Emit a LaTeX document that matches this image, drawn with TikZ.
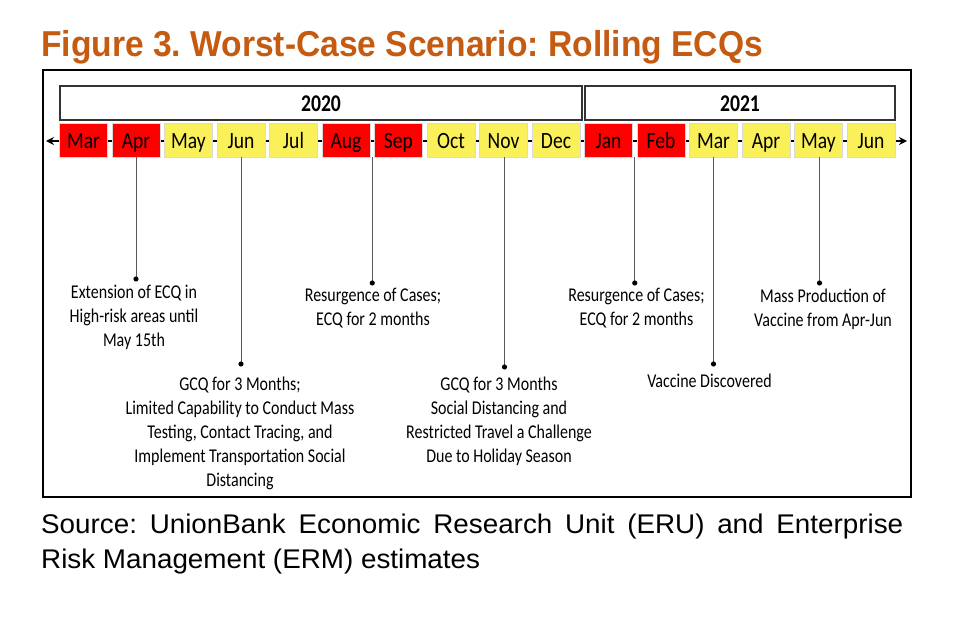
\documentclass[tikz,border=0pt]{standalone}
\usepackage{fontspec}
\setmainfont{Carlito}
\newfontfamily\arialfont{Liberation Sans}
\newfontfamily\labfont[FakeStretch=0.82]{Carlito}
\newfontfamily\monfont[FakeStretch=0.84]{Carlito}
\usetikzlibrary{arrows.meta,calc}
\definecolor{ttl}{RGB}{197,90,17}
\definecolor{ecqred}{RGB}{255,0,0}
\definecolor{gcqyel}{RGB}{250,240,90}
\newcommand\lines[1]{\begin{tabular}{@{}c@{}}#1\end{tabular}}
\begin{document}
\frenchspacing
\begin{tikzpicture}[x=1pt,y=-1pt,
  yearbox/.style={draw=black!80, line width=1.8pt, fill=white, minimum height=34pt, inner sep=0pt, text height=17.4pt, text depth=0pt, font=\labfont\fontsize{24}{24}\selectfont\bfseries},
  mon/.style={minimum width=48pt, minimum height=34pt, inner sep=0pt, text height=17.4pt, text depth=0pt, font=\monfont\fontsize{23.3}{23.3}\selectfont, draw=black!15, line width=0.4pt},
  red/.style={mon, fill=ecqred},
  yel/.style={mon, fill=gcqyel},
  conn/.style={draw=black!65, line width=0.8pt},
  dotc/.style={fill=black},
  lbl/.style={anchor=north, inner sep=0pt, font=\labfont\fontsize{19.5}{24}\selectfont},
  axisline/.style={line width=2.4pt, {Stealth[length=8pt,width=8pt]}-{Stealth[length=8pt,width=8pt]}}
]
\useasboundingbox (0,0) rectangle (954,617);
% title
\node[anchor=base west, inner sep=0pt, text=ttl] (title) at (41,56.7)
  {\scalebox{0.933}[1]{\arialfont\bfseries\fontsize{36}{36}\selectfont Figure 3. Worst-Case Scenario: Rolling ECQs}};
% frame
\draw[line width=1.8pt] (43,70) rectangle (911,497);
% years
\node[yearbox, minimum width=522pt] (y2020) at (321,103) {2020};
\node[yearbox, minimum width=310pt] (y2021) at (740,103) {2021};
% axis
\coordinate (axL) at (46,141);
\coordinate (axR) at (907,141);
\draw[axisline] (axL) -- (axR);
% months
\node[red] (m1)  at (83.5,140) {Mar};
\node[red] (m2)  at (136,140) {Apr};
\node[yel] (m3)  at (188.5,140) {May};
\node[yel] (m4)  at (241,140) {Jun};
\node[yel] (m5)  at (293.5,140) {Jul};
\node[red] (m6)  at (346,140) {Aug};
\node[red] (m7)  at (398.5,140) {Sep};
\node[yel] (m8)  at (451,140) {Oct};
\node[yel] (m9)  at (503.5,140) {Nov};
\node[yel] (m10) at (556,140) {Dec};
\node[red] (m11) at (608.5,140) {Jan};
\node[red] (m12) at (661,140) {Feb};
\node[yel] (m13) at (713.5,140) {Mar};
\node[yel] (m14) at (766,140) {Apr};
\node[yel] (m15) at (818.5,140) {May};
\node[yel] (m16) at (871,140) {Jun};
% connector start points at junctions
\coordinate (jAS) at ($(m6.south)!0.5!(m7.south)$);
\coordinate (jJF) at ($(m11.south)!0.5!(m12.south)$);
% dots
\coordinate (dApr) at (136,279);
\coordinate (dJun) at (241,364);
\coordinate (dAS)  at (372.25,283);
\coordinate (dNov) at (504.5,367);
\coordinate (dJF)  at (634.75,283);
\coordinate (dMar) at (713.5,364);
\coordinate (dMay) at (819.5,283);
\draw[conn] (m2.south) -- (dApr);
\draw[conn] (m4.south) -- (dJun);
\draw[conn] (jAS) -- (dAS);
\draw[conn] (m9.south -| dNov) -- (dNov);
\draw[conn] (jJF) -- (dJF);
\draw[conn] (m13.south) -- (dMar);
\draw[conn] (m15.south -| dMay) -- (dMay);
\foreach \d in {dApr,dJun,dAS,dNov,dJF,dMar,dMay} \fill[dotc] (\d) circle (2.6pt);
% labels
\node[lbl] (tApr) at (134,282) {\lines{Extension of ECQ in\\High-risk areas until\\May 15th}};
\node[lbl] (tJun) at (240,373.3) {\lines{GCQ for 3 Months;\\Limited Capability to Conduct Mass\\Testing, Contact Tracing, and\\Implement Transportation Social\\Distancing}};
\node[lbl] (tAS) at (373,284.8) {\lines{Resurgence of Cases;\\ECQ for 2 months}};
\node[lbl] (tNov) at (499,374) {\lines{GCQ for 3 Months\\Social Distancing and\\Restricted Travel a Challenge\\Due to Holiday Season}};
\node[lbl] (tJF) at (636.5,284.8) {\lines{Resurgence of Cases;\\ECQ for 2 months}};
\node[lbl] (tMar) at (709.5,370.8) {\lines{Vaccine Discovered}};
\node[lbl] (tMay) at (823,285.5) {\lines{Mass Production of\\Vaccine from Apr-Jun}};
% source
\node[anchor=base west, inner sep=0pt] (src1) at (41,533.3)
  {\arialfont\fontsize{27}{36}\selectfont\scalebox{1.03}[1]{\makebox[837pt][s]{Source: UnionBank Economic Research Unit (ERU) and Enterprise}}};
\node[anchor=base west, inner sep=0pt] (src2) at (41,568.8)
  {\arialfont\fontsize{27}{36}\selectfont\scalebox{1.03}[1]{Risk Management (ERM) estimates}};
\end{tikzpicture}
\end{document}
